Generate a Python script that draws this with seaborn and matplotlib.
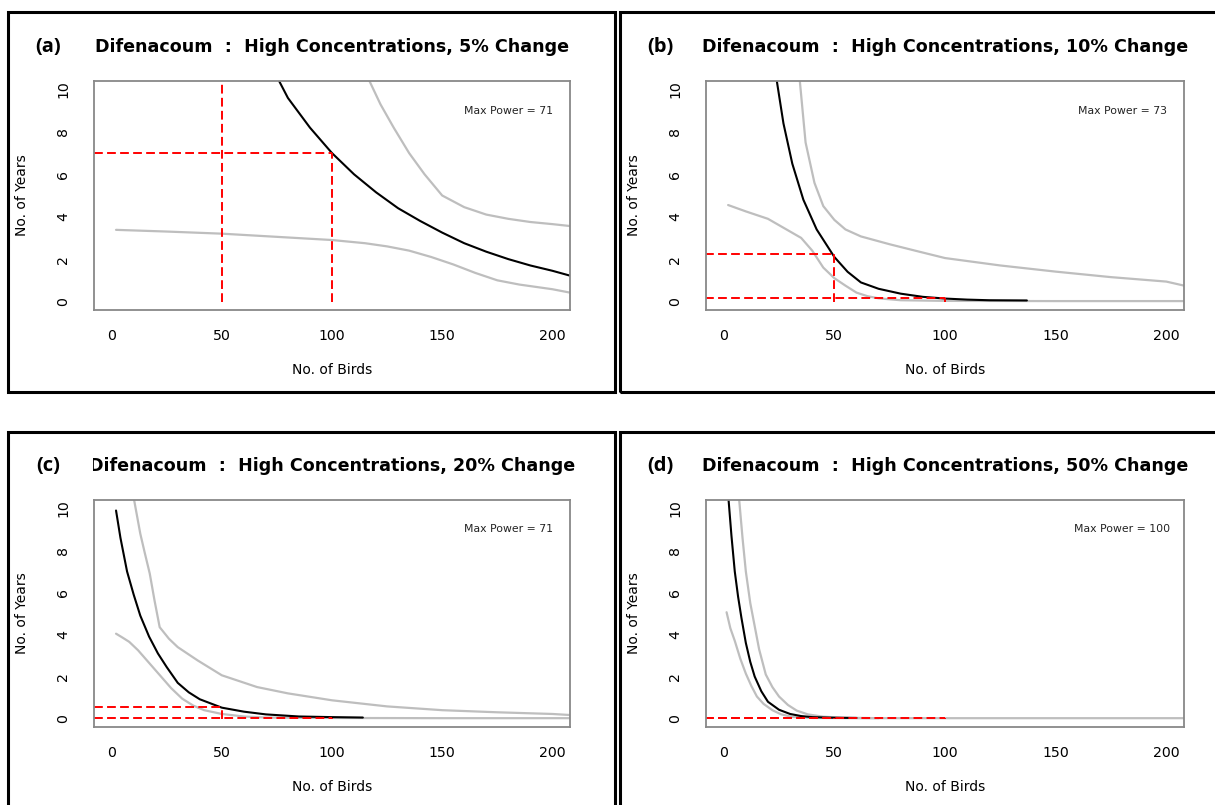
import matplotlib
matplotlib.use("Agg")
import matplotlib.pyplot as plt
from matplotlib.patches import Rectangle
from matplotlib.transforms import Bbox
import seaborn as sns

sns.set_style("white")
plt.rcParams['font.family'] = ['DejaVu Sans']
plt.rcParams['text.color'] = 'black'

W, H = 1215, 805

panel_tags = ["(a)", "(b)", "(c)", "(d)"]
titles = ["Difenacoum  :  High Concentrations, 5% Change",
          "Difenacoum  :  High Concentrations, 10% Change",
          "Difenacoum  :  High Concentrations, 20% Change",
          "Difenacoum  :  High Concentrations, 50% Change"]
max_power = [71, 73, 71, 100]

# estimated years needed (black) with upper / lower bounds (grey)
a_mid_x = [76, 80, 90, 100, 110, 120, 130, 140, 150, 160, 170, 180, 190, 200, 208]
a_mid_y = [10.4, 9.6, 8.2, 7.0, 6.0, 5.15, 4.4, 3.8, 3.25, 2.75, 2.35, 2.0, 1.7, 1.45, 1.22]
a_up_x = [117, 122, 128, 135, 142, 150, 160, 170, 180, 190, 200, 208]
a_up_y = [10.4, 9.3, 8.2, 7.0, 6.0, 5.0, 4.45, 4.1, 3.9, 3.75, 3.65, 3.56]
a_lo_x = [2, 25, 50, 75, 100, 115, 125, 135, 145, 155, 165, 175, 185, 200, 208]
a_lo_y = [3.38, 3.3, 3.2, 3.05, 2.9, 2.75, 2.6, 2.4, 2.1, 1.75, 1.35, 1.0, 0.8, 0.58, 0.42]

b_mid_x = [24, 27, 31, 36, 42, 50, 56, 62, 70, 80, 90, 100, 110, 120, 137]
b_mid_y = [10.4, 8.4, 6.5, 4.8, 3.4, 2.1, 1.4, 0.9, 0.6, 0.37, 0.22, 0.14, 0.09, 0.06, 0.05]
b_up_x = [34.4, 37, 41, 45, 50, 55, 62, 75, 88, 100, 125, 150, 175, 200, 208]
b_up_y = [10.4, 7.5, 5.6, 4.5, 3.85, 3.4, 3.07, 2.7, 2.36, 2.05, 1.7, 1.41, 1.15, 0.94, 0.75]
b_lo_x = [2, 10, 20, 30, 35, 40, 45, 50, 55, 60, 65, 70, 80, 100, 150, 208]
b_lo_y = [4.55, 4.25, 3.9, 3.3, 3.0, 2.4, 1.6, 1.1, 0.75, 0.42, 0.25, 0.15, 0.06, 0.03, 0.02, 0.02]

c_mid_x = [2, 4, 7, 10, 13, 17, 21, 25, 30, 35, 40, 50, 60, 70, 85, 100, 114]
c_mid_y = [9.9, 8.6, 7.0, 5.9, 4.9, 3.9, 3.1, 2.45, 1.7, 1.25, 0.92, 0.52, 0.33, 0.2, 0.1, 0.07, 0.05]
c_up_x = [10.2, 13, 15, 17.3, 19.5, 21.8, 26, 30, 39, 50, 66, 80, 100, 125, 150, 175, 200, 208]
c_up_y = [10.4, 8.8, 7.9, 6.9, 5.6, 4.35, 3.8, 3.4, 2.77, 2.06, 1.5, 1.2, 0.87, 0.58, 0.4, 0.3, 0.22, 0.17]
c_lo_x = [2, 5, 8, 12, 17, 22, 27, 32, 37, 42, 50, 60, 70, 100, 150, 208]
c_lo_y = [4.04, 3.85, 3.65, 3.25, 2.65, 2.05, 1.45, 0.95, 0.62, 0.4, 0.22, 0.1, 0.05, 0.03, 0.02, 0.02]

d_mid_x = [2.2, 3.5, 5, 6.5, 8, 10, 12, 14, 17, 20, 25, 30, 35, 40, 50, 60]
d_mid_y = [10.4, 8.7, 7.0, 5.8, 4.8, 3.6, 2.7, 2.0, 1.3, 0.8, 0.42, 0.22, 0.12, 0.07, 0.04, 0.03]
d_up_x = [7, 8.5, 10, 12, 14, 16, 19, 22, 25, 29, 33, 38, 45, 55, 70]
d_up_y = [10.4, 8.6, 7.0, 5.5, 4.4, 3.3, 2.1, 1.5, 1.05, 0.65, 0.38, 0.2, 0.09, 0.04, 0.02]
d_lo_x = [1.3, 3, 5, 7.5, 10, 12.5, 15, 18, 22, 26, 31, 40, 60, 100, 150, 208]
d_lo_y = [5.06, 4.3, 3.7, 2.85, 2.14, 1.55, 1.05, 0.7, 0.4, 0.2, 0.08, 0.03, 0.02, 0.02, 0.02, 0.02]

# red guide lines: years needed at 50 and 100 birds
ref_birds = [50, 100]
ref_years = [[14.0, 7.0], [2.25, 0.15], [0.55, 0.04], [0.03, 0.02]]

curves = [(a_mid_x, a_mid_y, a_up_x, a_up_y, a_lo_x, a_lo_y),
          (b_mid_x, b_mid_y, b_up_x, b_up_y, b_lo_x, b_lo_y),
          (c_mid_x, c_mid_y, c_up_x, c_up_y, c_lo_x, c_lo_y),
          (d_mid_x, d_mid_y, d_up_x, d_up_y, d_lo_x, d_lo_y)]

# layout in pixels (left, top, right, bottom)
axes_px = [(94, 81, 570, 310), (706, 81, 1184, 310),
           (94, 500, 570, 727), (706, 500, 1184, 727)]
frames_px = [(8, 12, 615, 392), (620, 12, 1225, 392),
             (8, 432, 615, 815), (620, 432, 1225, 815)]

fig = plt.figure(figsize=(W / 100, H / 100), dpi=100)

for i in range(4):
    fl, ft, fr, fb = frames_px[i]
    fig.add_artist(Rectangle((fl / W, 1 - fb / H), (fr - fl) / W, (fb - ft) / H,
                             transform=fig.transFigure, fill=False,
                             lw=2.2, ec="black", zorder=10))

    l, t, r, b = axes_px[i]
    ax = fig.add_axes([l / W, 1 - b / H, (r - l) / W, (b - t) / H])
    mx, my, ux, uy, lx, ly = curves[i]

    sns.lineplot(x=ux, y=uy, ax=ax, color="#BEBEBE", lw=1.6, estimator=None, sort=False)
    sns.lineplot(x=lx, y=ly, ax=ax, color="#BEBEBE", lw=1.6, estimator=None, sort=False)
    sns.lineplot(x=mx, y=my, ax=ax, color="black", lw=1.5, estimator=None, sort=False)

    for bx, yy in zip(ref_birds, ref_years[i]):
        ax.plot([-20, bx], [yy, yy], color="red", lw=1.4, dashes=(4.5, 2.2))
        ax.plot([bx, bx], [0, yy], color="red", lw=1.4, dashes=(4.5, 2.2))

    ax.set_xlim(-8, 208)
    ax.set_ylim(-0.4, 10.4)
    ax.set_xticks([0, 50, 100, 150, 200])
    ax.set_yticks([0, 2, 4, 6, 8, 10])
    ax.set_xticklabels(["0", "50", "100", "150", "200"], fontsize=10.2)
    ax.set_yticklabels(["0", "2", "4", "6", "8", "10"], fontsize=10.2,
                       rotation=90, va="center")
    ax.tick_params(axis="both", direction="out", length=8, width=1.1,
                   color="#444444", labelcolor="black")
    ax.tick_params(axis="x", pad=6)
    ax.tick_params(axis="y", pad=9)
    for sp in ax.spines.values():
        sp.set_color("#888888")
        sp.set_linewidth(1.3)
    ax.set_xlabel("")
    ax.set_ylabel("")

    ax.text(180, 9, "Max Power = %d" % max_power[i], ha="center", va="center",
            fontsize=7.8, color="#222222")

    cx = (l + r) / 2
    tt = fig.text(cx / W, 1 - (t - 34) / H, titles[i], ha="center", va="center",
                  fontsize=12.6, fontweight="bold", color="black")
    if i == 2:
        tt.set_clip_box(Bbox.from_extents(93, 0, W, H))
    fig.text((l - 46) / W, 1 - (t - 34) / H, panel_tags[i], ha="center", va="center",
             fontsize=14.5, fontweight="bold", family=["Open Sans", "DejaVu Sans"],
             color="black")
    fig.text(cx / W, 1 - (b + 60) / H, "No. of Birds", ha="center", va="center",
             fontsize=10, color="black")
    fig.text((l - 72) / W, 1 - ((t + b) / 2) / H, "No. of Years", ha="center",
             va="center", rotation=90, fontsize=10, color="black")

fig.savefig("out.png", dpi=100)
